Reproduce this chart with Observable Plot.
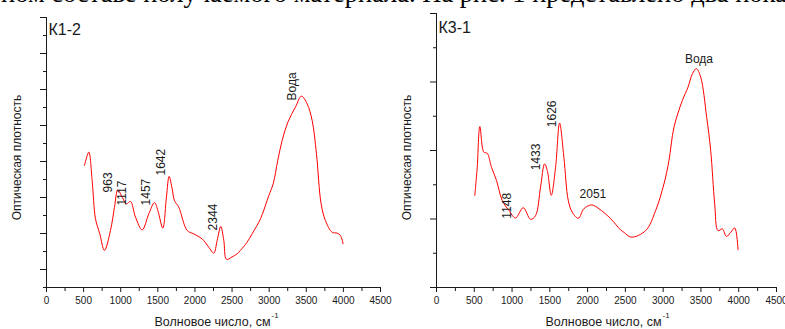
<!DOCTYPE html>
<html>
<head>
<meta charset="utf-8">
<script src="https://cdn.jsdelivr.net/npm/d3@7"></script>
<script src="https://cdn.jsdelivr.net/npm/@observablehq/plot@0.6"></script>
<style>
  body { margin: 0; background: #fff; }
  #fig { position: relative; width: 785px; height: 329px; overflow: hidden; background: #fff; }
  #doc { position: absolute; left: 1px; top: -20px; font-family: "Liberation Serif", "Times New Roman", serif; font-size: 26.5px; line-height: 26px; white-space: nowrap; color: #000; }
  .panel { position: absolute; top: 0; }
  .panel svg { font-family: "Liberation Sans", Arial, sans-serif; overflow: visible; }
</style>
</head>
<body>
<div id="fig">
  <div id="doc">ном составе получаемого материала. На рис. 1 представлено два пока</div>
  <div id="left" class="panel" style="left:0"></div>
  <div id="right" class="panel" style="left:390px"></div>
</div>
<script>
// ---------- data ----------
const xTicks = [0, 500, 1000, 1500, 2000, 2500, 3000, 3500, 4000, 4500];
const xMinorTicks = [250, 750, 1250, 1750, 2250, 2750, 3250, 3750, 4250];

const k12Wavenumber = [512, 570, 615, 660, 718, 781, 862, 916, 961, 1019, 1078, 1131, 1199, 1289, 1378, 1455, 1500, 1567, 1616, 1652, 1693, 1724, 1782, 1895, 1984, 2097, 2186, 2254, 2299, 2348, 2389, 2425, 2500, 2568, 2613, 2700, 2770, 2883, 2995, 3054, 3116, 3175, 3251, 3354, 3435, 3512, 3579, 3637, 3700, 3758, 3848, 3915, 3960, 3996];
const k12Density = [6.78, 7.52, 5.94, 3.82, 2.98, 2.06, 3.17, 4.46, 5.43, 5.02, 4.65, 4.78, 3.91, 3.20, 4.09, 4.72, 4.28, 3.30, 5.02, 6.17, 5.48, 4.83, 4.46, 3.17, 2.98, 2.70, 2.24, 1.91, 2.61, 3.39, 2.61, 1.56, 1.70, 1.87, 2.06, 2.50, 2.98, 3.82, 5.11, 5.76, 7.06, 8.17, 9.18, 10.02, 10.63, 10.20, 9.28, 7.43, 4.65, 3.72, 3.07, 3.02, 2.89, 2.43];
const k12Labels = ["963", "1117", "1457", "1642", "2344", "Вода"];
const k12LabelX = [831, 1020, 1347, 1545, 2245, 3310];
const k12LabelY = [5.28, 4.56, 4.56, 6.22, 3.17, 10.39];
const k12MajorY = [1, 3, 5, 7, 9, 11, 13, 15];
const k12MinorY = [0, 2, 4, 6, 8, 10, 12, 14];

const k31Wavenumber = [507, 539, 574, 627, 671, 728, 795, 870, 958, 1046, 1148, 1245, 1311, 1377, 1430, 1466, 1519, 1576, 1629, 1686, 1744, 1797, 1877, 1951, 2053, 2150, 2305, 2437, 2481, 2578, 2768, 2901, 3011, 3077, 3143, 3254, 3329, 3387, 3440, 3497, 3576, 3629, 3682, 3726, 3784, 3837, 3894, 3947, 3991];
const k31Density = [2.69, 3.51, 4.70, 3.95, 3.92, 3.51, 3.12, 2.54, 2.25, 2.03, 2.33, 1.99, 2.10, 2.93, 3.61, 3.42, 2.69, 3.51, 4.80, 3.80, 2.54, 2.20, 2.02, 2.30, 2.41, 2.30, 2.01, 1.68, 1.61, 1.47, 1.66, 2.25, 3.03, 3.71, 4.68, 5.46, 5.85, 6.24, 6.39, 6.14, 4.97, 4.00, 2.44, 1.66, 1.71, 1.49, 1.61, 1.74, 1.10];
const k31RotLabels = ["1148", "1433", "1626"];
const k31RotLabelX = [936, 1324, 1532];
const k31RotLabelY = [2.01, 3.42, 4.68];
const k31FlatLabels = ["2051", "Вода"];
const k31FlatLabelX = [2070, 3474];
const k31FlatLabelY = [2.73, 6.67];
const k31MajorY = [0, 2, 4, 6, 8];
const k31MinorY = [1, 3, 5, 7];

const yTitle = "Оптическая плотность";
const xTitle = "Волновое число, см";
const xTitleSup = "-1";

// ---------- drawing ----------
const ink = "#1a1a1a";
function panel(opts) {
  const pts = opts.wn.map((w, i) => ({w, d: opts.dens[i]}));
  const rot = (opts.rotL || []).map((t, i) => ({t, x: opts.rotX[i], y: opts.rotY[i]}));
  const flat = (opts.flatL || []).map((t, i) => ({t, x: opts.flatX[i], y: opts.flatY[i]}));
  return Plot.plot({
    width: opts.width,
    height: 329,
    marginLeft: 46,
    marginRight: opts.marginRight,
    marginTop: opts.marginTop,
    marginBottom: 42,
    x: {domain: [0, 4500]},
    y: {domain: [0, opts.yMax]},
    style: {fontFamily: '"Liberation Sans", Arial, sans-serif', color: ink, background: "transparent"},
    marks: [
      Plot.axisX({ticks: xTicks, tickSize: 5, tickPadding: 4, tickFormat: d3.format("d"), fontSize: 10, label: null, stroke: ink, strokeWidth: 1, style: "letter-spacing:1px"}),
      Plot.axisX({ticks: xMinorTicks, tickSize: 4, tickFormat: () => "", label: null, stroke: ink}),
      Plot.axisY({ticks: opts.majorY, tickSize: 6, tickFormat: () => "", label: null, stroke: ink}),
      Plot.axisY({ticks: opts.minorY, tickSize: 3, tickFormat: () => "", label: null, stroke: ink}),
      Plot.ruleX([0], {stroke: ink, strokeWidth: 1}),
      Plot.ruleY([0], {x1: 0, x2: 4500, stroke: ink, strokeWidth: 1}),
      Plot.line(pts, {x: "w", y: "d", stroke: "#ff0000", strokeWidth: 1, curve: "catmull-rom"}),
      Plot.text(rot, {x: "x", y: "y", text: "t", rotate: -90, textAnchor: "start", lineAnchor: "middle", fontSize: 12, fill: ink}),
      Plot.text(flat, {x: "x", y: "y", text: "t", textAnchor: "middle", lineAnchor: "middle", fontSize: 12, fill: ink}),
      Plot.text([opts.title], {frameAnchor: "top-left", textAnchor: "start", lineAnchor: "middle", dx: 2, dy: opts.titleDy, fontSize: 16, fill: ink}),
      Plot.text([yTitle], {frameAnchor: "left", rotate: -90, textAnchor: "middle", lineAnchor: "middle", dx: -29, dy: opts.yTitleDy, fontSize: 12, fill: ink}),
      Plot.text([xTitle], {frameAnchor: "bottom", textAnchor: "end", lineAnchor: "middle", dx: opts.xTitleDx, dy: 34, fontSize: 12.5, fill: ink}),
      Plot.text([xTitleSup], {frameAnchor: "bottom", textAnchor: "start", lineAnchor: "middle", dx: opts.xTitleDx + 1, dy: 28, fontSize: 8, fill: ink})
    ]
  });
}

document.getElementById("left").append(panel({
  width: 390, marginRight: 10, marginTop: 17, yMax: 15,
  wn: k12Wavenumber, dens: k12Density,
  rotL: k12Labels, rotX: k12LabelX, rotY: k12LabelY,
  majorY: k12MajorY, minorY: k12MinorY,
  title: "К1-2", titleDy: 12, yTitleDy: 5, xTitleDx: 57
}));
document.getElementById("right").append(panel({
  width: 395, marginRight: 9, marginTop: 13, yMax: 8,
  wn: k31Wavenumber, dens: k31Density,
  rotL: k31RotLabels, rotX: k31RotLabelX, rotY: k31RotLabelY,
  flatL: k31FlatLabels, flatX: k31FlatLabelX, flatY: k31FlatLabelY,
  majorY: k31MajorY, minorY: k31MinorY,
  title: "К3-1", titleDy: 14, yTitleDy: 7, xTitleDx: 55
}));
</script>
</body>
</html>
